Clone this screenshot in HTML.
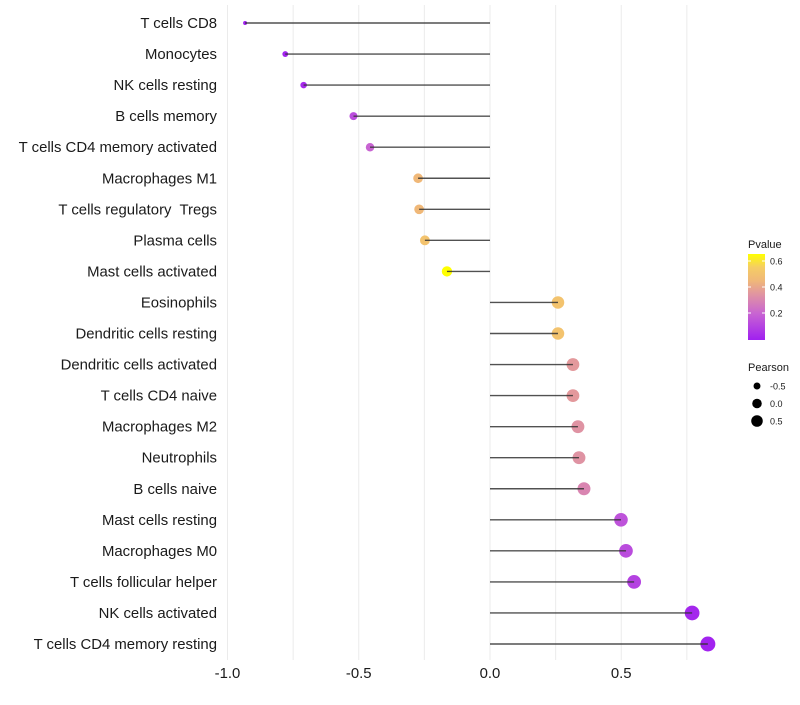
<!DOCTYPE html>
<html><head><meta charset="utf-8"><style>
body{margin:0;background:#fff;font-family:"Liberation Sans",sans-serif;}
svg text{font-family:"Liberation Sans",sans-serif;white-space:pre;}
</style></head><body>
<svg id="chart" width="800" height="700"></svg>
<script>
const categories=["T cells CD8","Monocytes","NK cells resting","B cells memory","T cells CD4 memory activated","Macrophages M1","T cells regulatory  Tregs","Plasma cells","Mast cells activated","Eosinophils","Dendritic cells resting","Dendritic cells activated","T cells CD4 naive","Macrophages M2","Neutrophils","B cells naive","Mast cells resting","Macrophages M0","T cells follicular helper","NK cells activated","T cells CD4 memory resting"];
const pearson=[-0.933,-0.78,-0.71,-0.52,-0.457,-0.274,-0.27,-0.248,-0.164,0.259,0.259,0.316,0.316,0.335,0.339,0.358,0.499,0.518,0.549,0.77,0.83];
const pvalue=[0.0,0.01,0.03,0.13,0.2,0.45,0.45,0.5,0.65,0.5,0.5,0.36,0.36,0.34,0.34,0.3,0.15,0.13,0.1,0.02,0.01];
const xTicks=[-1,-0.5,0,0.5];
const xTickLabels=["-1.0","-0.5","0.0","0.5"];
const gridVals=[-1,-0.75,-0.5,-0.25,0,0.25,0.5,0.75];
const legendP=[0.6,0.4,0.2];
const legendS=[-0.5,0,0.5];

const NS="http://www.w3.org/2000/svg";
const svg=document.getElementById('chart');
function el(t,a,p){const e=document.createElementNS(NS,t);for(const k in a)e.setAttribute(k,a[k]);(p||svg).appendChild(e);return e;}
const x=v=>490+v*262.5;
const y=i=>23+i*31.05;
const r=v=>Math.sqrt(Math.max(3,31.5+29.5*v));
const stops=[[0,[160,32,240]],[0.2,[200,100,210]],[0.35,[225,150,160]],[0.45,[240,184,120]],[0.55,[245,205,100]],[0.65,[255,255,0]]];
function col(p){for(let i=1;i<stops.length;i++){if(p<=stops[i][0]){const a=stops[i-1],b=stops[i],t=(p-a[0])/(b[0]-a[0]);return 'rgb('+a[1].map((c,j)=>Math.round(c+(b[1][j]-c)*t)).join(',')+')';}}return 'rgb(255,255,0)';}

gridVals.forEach(v=>{const g=el('line',{x1:x(v),x2:x(v),y1:5,y2:660,stroke:'#ebebeb','stroke-width':1});

});

categories.forEach((c,i)=>{
 const t=el('text',{x:217,y:y(i)+5,'text-anchor':'end','font-size':14.9,fill:'#1a1a1a'});t.textContent=c;
 
 
 const pt=el('circle',{cx:x(pearson[i]),cy:y(i),r:r(pearson[i]),fill:col(pvalue[i])});
 
 
 const ln=el('line',{x1:x(0),x2:x(pearson[i]),y1:y(i),y2:y(i),stroke:'#333','stroke-width':1.4,'stroke-opacity':0.85});
 
 
});
xTicks.forEach((v,i)=>{const t=el('text',{x:x(v),y:678,'text-anchor':'middle','font-size':14.9,fill:'#1a1a1a'});t.textContent=xTickLabels[i];

});

const defs=el('defs',{});
const lg=el('linearGradient',{id:'pg',x1:0,y1:1,x2:0,y2:0},defs);
stops.forEach(s=>el('stop',{offset:s[0]/0.65,'stop-color':col(s[0])},lg));
const lt=el('text',{x:748,y:248,'font-size':11,fill:'#1a1a1a'});lt.textContent='Pvalue';


const bar=el('rect',{x:748,y:254,width:17,height:86,fill:'url(#pg)'});


legendP.forEach(p=>{const yy=339-p*130;el('line',{x1:748,x2:751,y1:yy,y2:yy,stroke:'#fff'});el('line',{x1:762,x2:765,y1:yy,y2:yy,stroke:'#fff'});
const t=el('text',{x:770,y:yy+3.5,'font-size':9,fill:'#1a1a1a'});t.textContent=p.toFixed(1);

});
const st=el('text',{x:748,y:371,'font-size':11,fill:'#1a1a1a'});st.textContent='Pearson';


legendS.forEach((s,i)=>{const yy=386+i*17.5;const c=el('circle',{cx:757,cy:yy,r:r(s)*0.85,fill:'#000'});


const t=el('text',{x:770,y:yy+3.5,'font-size':9,fill:'#1a1a1a'});t.textContent=s.toFixed(1);

});
</script>
</body></html>
